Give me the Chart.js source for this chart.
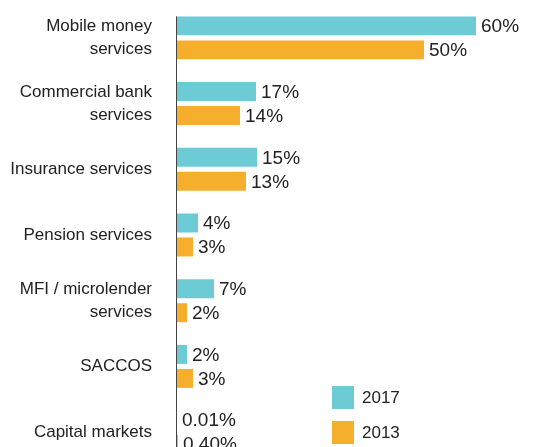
<!DOCTYPE html>
<html lang="en">
<head>
  <meta charset="UTF-8">
  <title>Financial services usage</title>
  <script src="https://cdn.jsdelivr.net/npm/chart.js"></script>
  <style>
    body { margin: 0; padding: 0; background: #fff; overflow: hidden; font-family: "Liberation Sans", Arial, sans-serif; }
    .wrap { position: relative; width: 546px; height: 465px; }
    #legend { position: absolute; left: 332px; top: 386px; }
    .item { display: flex; align-items: center; height: 23px; margin-bottom: 12px; font-size: 17px; color: #222; }
    .swatch { width: 22px; height: 23px; margin-right: 8px; }
  </style>
</head>
<body>
  <div class="wrap">
    <canvas id="chart"></canvas>
    <div id="legend"></div>
  </div>
  <script>
    const categories = [
      ['Mobile money', 'services'],
      ['Commercial bank', 'services'],
      'Insurance services',
      'Pension services',
      ['MFI / microlender', 'services'],
      'SACCOS',
      'Capital markets'
    ];
    const seriesNames = ['2017', '2013'];
    const colors = ['#6ccbd4', '#f6ae2d'];
    // bar lengths (%)
    const values2017 = [60, 16, 16.2, 4.4, 7.6, 2.2, 0.2];
    const values2013 = [49.6, 12.8, 14, 3.4, 2.2, 3.4, 0.4];
    // printed labels
    const labels2017 = ['60%', '17%', '15%', '4%', '7%', '2%', '0.01%'];
    const labels2013 = ['50%', '14%', '13%', '3%', '2%', '3%', '0.40%'];
    const valueLabels = [labels2017, labels2013];

    const barLabels = {
      id: 'barLabels',
      afterDatasetsDraw(chart) {
        const ctx = chart.ctx;
        ctx.save();
        ctx.font = '19px "Liberation Sans", Arial, sans-serif';
        ctx.fillStyle = '#222';
        ctx.textAlign = 'left';
        ctx.textBaseline = 'middle';
        chart.data.datasets.forEach((ds, di) => {
          chart.getDatasetMeta(di).data.forEach((bar, i) => {
            ctx.fillText(valueLabels[di][i], bar.x + 5, bar.y + 1);
          });
        });
        ctx.restore();
      }
    };

    const axisLine = {
      id: 'axisLine',
      afterDatasetsDraw(chart) {
        const first = chart.getDatasetMeta(0).data[0];
        const ctx = chart.ctx;
        const x = chart.chartArea.left + 0.5;
        ctx.save();
        ctx.strokeStyle = '#444';
        ctx.lineWidth = 1;
        ctx.beginPath();
        ctx.moveTo(x, first.y - first.height / 2);
        ctx.lineTo(x, chart.chartArea.bottom);
        ctx.stroke();
        ctx.restore();
      }
    };

    const chart = new Chart(document.getElementById('chart'), {
      type: 'bar',
      data: {
        labels: categories,
        datasets: [
          { label: seriesNames[0], data: values2017, backgroundColor: colors[0] },
          { label: seriesNames[1], data: values2013, backgroundColor: colors[1] }
        ]
      },
      options: {
        indexAxis: 'y',
        responsive: true,
        maintainAspectRatio: false,
        animation: false,
        categoryPercentage: 0.73,
        barPercentage: 0.79,
        layout: { padding: { top: 5, right: 20, left: 0, bottom: 0 } },
        plugins: { legend: { display: false }, tooltip: { enabled: false } },
        scales: {
          x: { display: false, min: 0, max: 70 },
          y: {
            grid: { display: false, drawTicks: false },
            border: { display: false },
            ticks: {
              padding: 24,
              color: '#222',
              font: { family: '"Liberation Sans", Arial, sans-serif', size: 17, lineHeight: 1.35 }
            },
            afterFit(scale) {
              scale.width = 176;
              scale.paddingTop = 0;
              scale.paddingBottom = 0;
            }
          }
        }
      },
      plugins: [barLabels, axisLine]
    });

    const legend = document.getElementById('legend');
    seriesNames.forEach((name, i) => {
      const item = document.createElement('div');
      item.className = 'item';
      item.innerHTML = '<span class="swatch" style="background:' + colors[i] + '"></span>' + name;
      legend.appendChild(item);
    });
  </script>
</body>
</html>
